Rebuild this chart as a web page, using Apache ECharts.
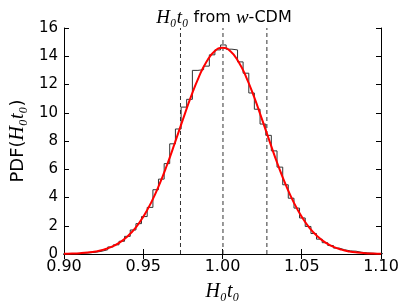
<!DOCTYPE html>
<html><head><meta charset="utf-8">
<script src="https://cdn.jsdelivr.net/npm/echarts@6/dist/echarts.min.js"></script>
<style>html,body{margin:0;padding:0;background:#fff}#c{width:409px;height:307px}</style>
</head><body><div id="c"></div>
<script>
// Histogram bin edges (left edges plus final right edge)
const binEdges = [0.8991,0.9026,0.9062,0.9098,0.9133,0.9169,0.9204,0.9240,0.9276,0.9311,
  0.9347,0.9382,0.9418,0.9454,0.9489,0.9525,0.9561,0.9596,0.9632,0.9667,
  0.9703,0.9739,0.9774,0.9810,0.9845,0.9881,0.9917,0.9952,0.9988,1.0023,
  1.0059,1.0095,1.0130,1.0166,1.0201,1.0237,1.0273,1.0308,1.0344,1.0380,
  1.0415,1.0451,1.0486,1.0522,1.0558,1.0593,1.0629,1.0664,1.0700,1.0736,
  1.0771,1.0807,1.0842,1.0878,1.0914,1.0949,1.0985,1.1020];
// Histogram heights (PDF)
const binHeights = [0.015,0.02,0.04,0.06,0.09,0.13,0.2,0.3,0.5,0.65,
  0.9,1.25,1.7,2.15,2.65,3.3,4.55,5.3,6.4,7.8,
  8.85,10.4,10.95,13.0,13.05,13.3,14.1,14.45,14.8,14.5,
  14.45,13.6,12.8,11.4,10.25,9.2,8.4,7.3,6.15,4.9,
  3.95,3.25,2.55,1.95,1.45,1.05,0.8,0.6,0.42,0.3,
  0.22,0.2,0.12,0.08,0.05,0.03,0.02];
// Fitted Gaussian curve (red)
const fitX = [0.900,0.905,0.910,0.915,0.920,0.925,0.930,0.935,0.940,0.945,
  0.950,0.955,0.960,0.965,0.970,0.975,0.980,0.985,0.990,0.995,
  1.000,1.005,1.010,1.015,1.020,1.025,1.030,1.035,1.040,1.045,
  1.050,1.055,1.060,1.065,1.070,1.075,1.080,1.085,1.090,1.095,1.100];
const fitY = [0.015,0.030,0.056,0.103,0.181,0.308,0.506,0.805,1.24,1.83,
  2.63,3.64,4.87,6.30,7.88,9.51,11.10,12.51,13.63,14.35,
  14.60,14.35,13.63,12.51,11.10,9.51,7.88,6.30,4.87,3.64,
  2.63,1.83,1.24,0.805,0.506,0.308,0.181,0.103,0.056,0.030,0.015];
// Dashed vertical markers (mean and 1-sigma bounds)
const markerX = [0.9735, 1.0003, 1.0280];
const xTickLabels = ['0.90','0.95','1.00','1.05','1.10'];
const yTickLabels = ['0','2','4','6','8','10','12','14','16'];

const histData = [[binEdges[0], 0]];
for (let i = 0; i < binHeights.length; i++) histData.push([binEdges[i], binHeights[i]]);
histData.push([binEdges[binEdges.length-1], binHeights[binHeights.length-1]]);
histData.push([binEdges[binEdges.length-1], 0]);

const fitData = fitX.map((x,i)=>[x, fitY[i]]);

const MATH = "'Liberation Serif','DejaVu Serif',serif";
const SANS = "'DejaVu Sans',sans-serif";
const mStyle = (fs)=>({fontFamily:MATH, fontStyle:'italic', fontWeight:'normal', fontSize:fs, color:'#000'});
const sStyle = (fs)=>({fontFamily:SANS, fontStyle:'normal', fontWeight:'normal', fontSize:fs, color:'#000'});

const series = [];
markerX.forEach(x => series.push({
  type:'line', data:[[x,0],[x,16]], symbol:'none', silent:true,
  lineStyle:{color:'#333', width:1, type:[4,3]}, z:1
}));
series.push({type:'line', data:histData, step:'end', symbol:'none',
  lineStyle:{color:'#333', width:1}, z:2});
series.push({type:'line', data:fitData, smooth:true, symbol:'none',
  lineStyle:{color:'#ff0000', width:2}, z:3});

const chart = echarts.init(document.getElementById('c'), null, {renderer:'canvas'});
chart.setOption({
  animation:false,
  backgroundColor:'#fff',
  title:{
    text:'{m|H₀t₀} {s|from} {m|w}{s|-CDM}',
    left:219, top:3, textAlign:'center',
    textStyle:{fontWeight:'normal', fontFamily:SANS, fontSize:16, rich:{m:mStyle(19), s:sStyle(16)}}
  },
  grid:{left:58, right:28, top:28, bottom:51, show:false},
  xAxis:[{
    type:'value', min:0.9, max:1.1, interval:0.05,
    name:'{m|H₀t₀}', nameLocation:'middle', nameGap:28,
    nameTextStyle:{fontFamily:MATH, fontStyle:'italic', fontSize:20, rich:{m:mStyle(20)}},
    axisLine:{show:true, lineStyle:{color:'#000', width:1}},
    axisTick:{show:true, inside:true, length:5, lineStyle:{color:'#000'}},
    axisLabel:{color:'#000', fontFamily:SANS, fontSize:16, margin:5,
      formatter:v=>xTickLabels[Math.round((v-0.9)/0.05)]},
    splitLine:{show:false}
  },{
    type:'value', min:0.9, max:1.1, interval:0.05, position:'top',
    axisLine:{show:true, lineStyle:{color:'#000', width:1}},
    axisTick:{show:true, inside:true, length:5, lineStyle:{color:'#000'}},
    axisLabel:{show:false}, splitLine:{show:false}
  }],
  yAxis:[{
    type:'value', min:0, max:16, interval:2,
    name:'{s|PDF(}{m|H₀t₀}{s|)}', nameLocation:'middle', nameGap:33, nameRotate:90,
    nameTextStyle:{fontFamily:SANS, fontSize:18, rich:{m:mStyle(20), s:sStyle(18)}},
    axisLine:{show:true, lineStyle:{color:'#000', width:1}},
    axisTick:{show:true, inside:true, length:5, lineStyle:{color:'#000'}},
    axisLabel:{color:'#000', fontFamily:SANS, fontSize:15, margin:6,
      formatter:v=>yTickLabels[Math.round(v/2)]},
    splitLine:{show:false}
  },{
    type:'value', min:0, max:16, interval:2, position:'right',
    axisLine:{show:true, lineStyle:{color:'#000', width:1}},
    axisTick:{show:true, inside:true, length:5, lineStyle:{color:'#000'}},
    axisLabel:{show:false}, splitLine:{show:false}
  }],
  series:series
});
</script></body></html>
